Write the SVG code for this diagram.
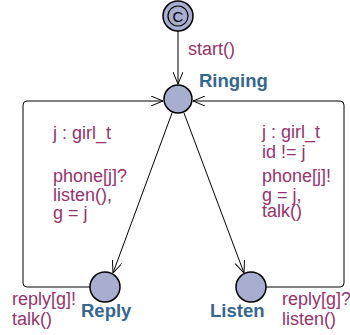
<svg xmlns="http://www.w3.org/2000/svg" width="350" height="335" viewBox="0 0 350 335">
<style>
.node{fill:#a7aecf;stroke:#000;stroke-width:1.5}
.edge{fill:none;stroke:#000;stroke-width:1}
.lbl{font-family:"Liberation Sans",Arial,sans-serif;font-size:18px;fill:#96336a}
.name{font-family:"Liberation Sans",Arial,sans-serif;font-size:18.5px;font-weight:bold;fill:#336791}
</style>
<defs>
<marker id="arr" viewBox="0 0 12 10" refX="12" refY="5" markerWidth="12" markerHeight="10" markerUnits="userSpaceOnUse" orient="auto">
<path d="M0,0 L12,5 L0,10" fill="none" stroke="#000" stroke-width="1"/>
</marker>
</defs>
<rect width="350" height="335" fill="#fff"/>
<g id="connectors">
<path class="edge" d="M178,31 L178,84" marker-end="url(#arr)"/>
<path class="edge" d="M172,113 L113,273" marker-end="url(#arr)"/>
<path class="edge" d="M184,113 L244,273" marker-end="url(#arr)"/>
<path class="edge" d="M90,287 L27,287 Q23,287 23,283 L23,105 Q23,101 27,101 L163,101" marker-end="url(#arr)"/>
<path class="edge" d="M266,287 L340,287 Q344,287 344,283 L344,105 Q344,101 340,101 L193,101" marker-end="url(#arr)"/>
</g>
<g id="start">
<circle class="node" cx="178" cy="16" r="15"/>
<circle cx="178" cy="16" r="10" fill="none" stroke="#000" stroke-width="1.2"/>
<text x="178" y="21.5" text-anchor="middle" font-family="Liberation Sans,Arial,sans-serif" font-size="15" fill="#000">C</text>
</g>
<g id="ringing">
<circle class="node" cx="178" cy="99" r="14"/>
<text class="name" x="199" y="87">Ringing</text>
</g>
<g id="reply">
<circle class="node" cx="105" cy="287" r="15"/>
<text class="name" x="81" y="317">Reply</text>
</g>
<g id="listen">
<circle class="node" cx="251" cy="287" r="15"/>
<text class="name" x="210" y="317">Listen</text>
</g>
<g id="labels">
<text class="lbl" x="188" y="55">start()</text>
<text class="lbl" x="53" y="139">j : girl_t</text>
<text class="lbl" x="53" y="182">phone[j]?</text>
<text class="lbl" x="53" y="201">listen(),</text>
<text class="lbl" x="53" y="219">g = j</text>
<text class="lbl" x="262" y="138">j : girl_t</text>
<text class="lbl" x="262" y="158">id != j</text>
<text class="lbl" x="262" y="182">phone[j]!</text>
<text class="lbl" x="262" y="201">g = j,</text>
<text class="lbl" x="262" y="217">talk()</text>
<text class="lbl" x="12" y="305">reply[g]!</text>
<text class="lbl" x="12" y="325">talk()</text>
<text class="lbl" x="282" y="305">reply[g]?</text>
<text class="lbl" x="282" y="325">listen()</text>
</g>
</svg>
